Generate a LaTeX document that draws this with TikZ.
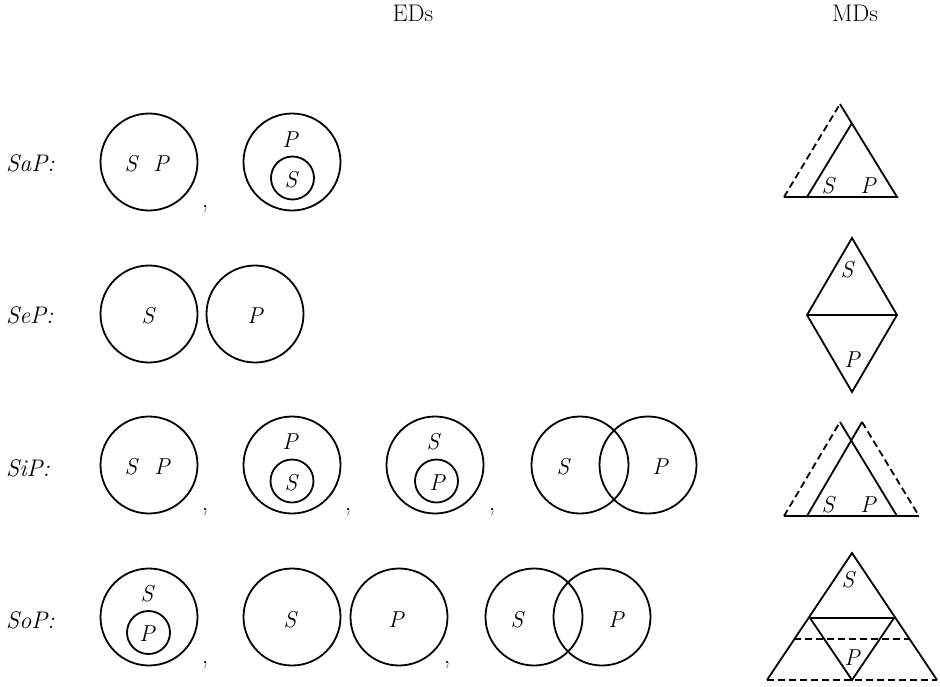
\documentclass[tikz,border=0pt]{standalone}
\usepackage{fontspec}
\usetikzlibrary{shapes.geometric}
\begin{document}
\begin{tikzpicture}[x=1pt,y=-1pt,
  lw/.style={line width=1.8pt},
  circ/.style={draw,lw,circle,inner sep=0pt,minimum size=97pt},
  small/.style={draw,lw,circle,inner sep=0pt,minimum size=43pt},
  lab/.style={inner sep=0pt,font=\fontsize{23}{26}\selectfont\itshape},
  head/.style={inner sep=0pt,font=\fontsize{24}{28}\selectfont},
  rowlab/.style={inner sep=0pt,anchor=west,font=\fontsize{24}{28}\selectfont\itshape},
  commasty/.style={inner sep=0pt,font=\fontsize{26}{30}\selectfont},
  md/.style={lw,line join=miter},
  mddash/.style={lw,dash pattern=on 7pt off 4pt}]
\useasboundingbox (0,0) rectangle (940,686);

% headers
\node[head] (hED) at (413,13) {EDs};
\node[head] (hMD) at (855,13) {MDs};

% row labels
\node[rowlab] (rA) at (6,163) {SaP:};
\node[rowlab] (rE) at (6,315) {SeP:};
\node[rowlab] (rI) at (6,468) {SiP:};
\node[rowlab] (rO) at (6,620) {SoP:};

% ---- Row 1 (SaP)
\node[circ] (a1) at (149,162) {};
\node[lab] (a1s) at (131,164) {S};
\node[lab] (a1p) at (161,164) {P};
\node[commasty] (a1c) at (205,209) {,};
\node[circ] (a2) at (292,162) {};
\node[small] (a2i) at (292.5,178) {};
\node[lab] (a2p) at (290,140) {P};
\node[lab] (a2s) at (291,180) {S};

% ---- Row 2 (SeP)
\node[circ] (e1) at (149,314) {};
\node[lab] (e1s) at (148,316) {S};
\node[circ] (e2) at (255,314) {};
\node[lab] (e2p) at (255,316) {P};

% ---- Row 3 (SiP)
\node[circ] (i1) at (149,465) {};
\node[lab] (i1s) at (131,467) {S};
\node[lab] (i1p) at (162,467) {P};
\node[commasty] (i1c) at (205,512) {,};
\node[circ] (i2) at (292,465) {};
\node[small] (i2i) at (292,481) {};
\node[lab] (i2p) at (290,442) {P};
\node[lab] (i2s) at (291,483) {S};
\node[commasty] (i2c) at (348,512) {,};
\node[circ] (i3) at (435,465) {};
\node[small] (i3i) at (436.5,481) {};
\node[lab] (i3s) at (433,442) {S};
\node[lab] (i3p) at (437,483) {P};
\node[commasty] (i3c) at (492,512) {,};
\node[circ] (i4) at (580,465) {};
\node[circ] (i5) at (648,465) {};
\node[lab] (i4s) at (563,467) {S};
\node[lab] (i5p) at (660,467) {P};

% ---- Row 4 (SoP)
\node[circ] (o1) at (149,617) {};
\node[small] (o1i) at (148.5,632.5) {};
\node[lab] (o1s) at (147,594) {S};
\node[lab] (o1p) at (147,634) {P};
\node[commasty] (o1c) at (205,665) {,};
\node[circ] (o2) at (292,617) {};
\node[lab] (o2s) at (290,620) {S};
\node[circ] (o3) at (399,617) {};
\node[lab] (o3p) at (396,620) {P};
\node[commasty] (o3c) at (447,665) {,};
\node[circ] (o4) at (534,617) {};
\node[circ] (o5) at (602,617) {};
\node[lab] (o4s) at (517,620) {S};
\node[lab] (o5p) at (616,620) {P};

% ---- MDs
% SaP
\draw[mddash] (784,197) -- (840,104);
\draw[md] (840,104) -- (897,197) -- (784,197);
\draw[md] (807,197) -- (852,123);
\node[lab] (ma_s) at (828,186) {S};
\node[lab] (ma_p) at (868,186) {P};

% SeP
\draw[md] (807,315) -- (852,238) -- (897,315) -- (852,392) -- cycle;
\draw[md] (807,315) -- (897,315);
\node[lab] (me_s) at (847,270) {S};
\node[lab] (me_p) at (852,360) {P};

% SiP
\draw[md] (784,516) -- (919,516);
\draw[mddash] (784,516) -- (840,422);
\draw[md] (840,422) -- (897,516);
\draw[md] (807,516) -- (862,422);
\draw[mddash] (862,422) -- (919,516);
\node[lab] (mi_s) at (828,505) {S};
\node[lab] (mi_p) at (868,505) {P};

% SoP
\draw[md] (767,680) -- (852,553) -- (937,680);
\draw[mddash] (767,680) -- (937,680);
\draw[md] (810,618) -- (894,618) -- (852,680) -- cycle;
\draw[mddash] (794,639) -- (909,639);
\node[lab] (mo_s) at (848,580) {S};
\node[lab] (mo_p) at (852,658) {P};
\end{tikzpicture}
\end{document}
